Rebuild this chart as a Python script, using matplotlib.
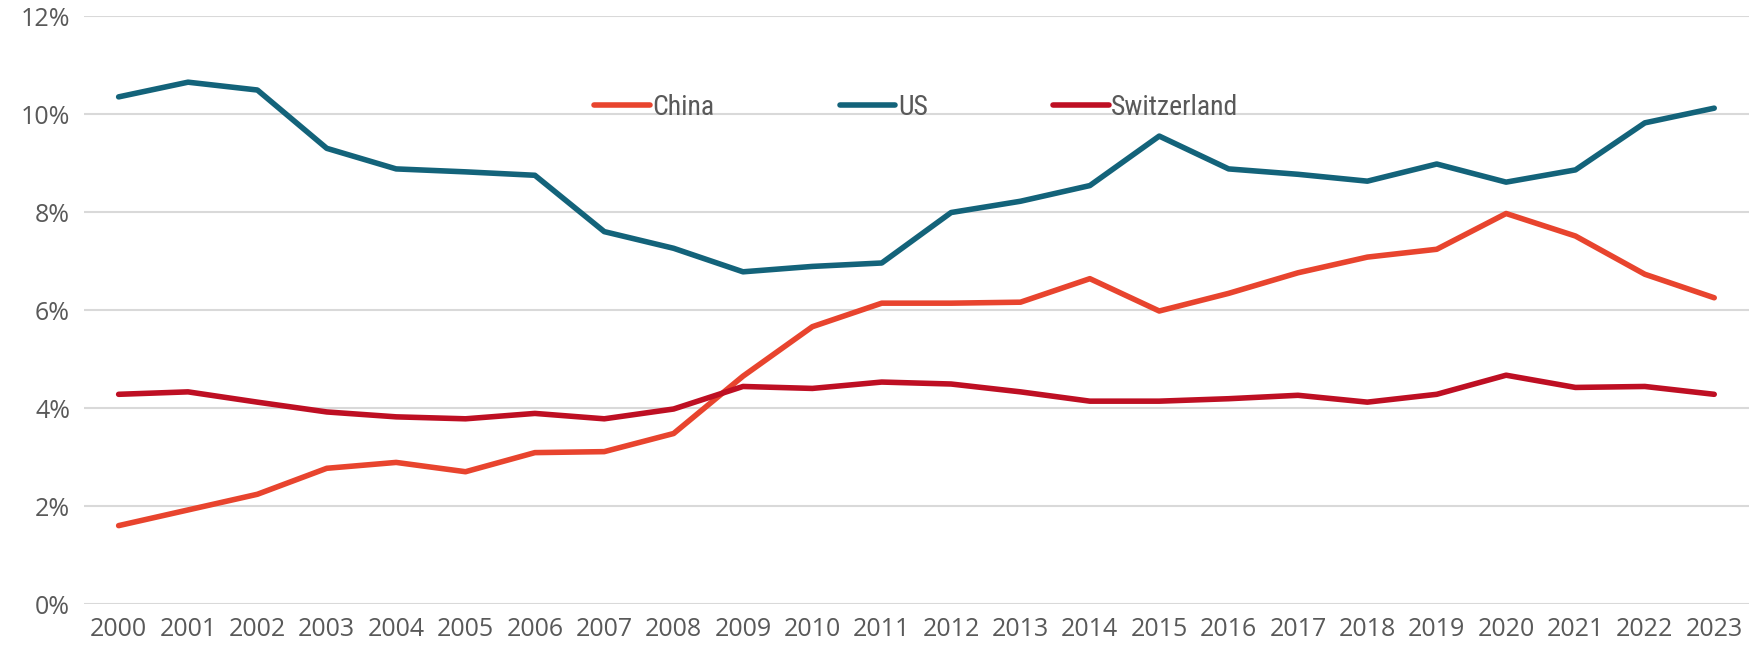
import numpy as np
import matplotlib.pyplot as plt
from matplotlib.ticker import FuncFormatter

# share of global total, percent
years = list(range(2000, 2024))
china = [1.60, 1.92, 2.24, 2.77, 2.89, 2.70, 3.09, 3.11, 3.48, 4.65, 5.66, 6.14,
         6.14, 6.16, 6.64, 5.98, 6.34, 6.76, 7.08, 7.24, 7.97, 7.51, 6.73, 6.25]
us = [10.35, 10.65, 10.49, 9.30, 8.88, 8.82, 8.75, 7.60, 7.26, 6.78, 6.89, 6.96,
      7.99, 8.22, 8.54, 9.55, 8.88, 8.77, 8.63, 8.98, 8.61, 8.86, 9.82, 10.12]
switzerland = [4.28, 4.33, 4.12, 3.92, 3.82, 3.78, 3.89, 3.78, 3.98, 4.44, 4.40, 4.53,
               4.49, 4.33, 4.14, 4.14, 4.19, 4.26, 4.12, 4.28, 4.67, 4.42, 4.44, 4.28]

series = [('China', china, '#E8442E'),
          ('US', us, '#13637A'),
          ('Switzerland', switzerland, '#BE0F23')]

plt.rcParams['font.family'] = ['Open Sans', 'DejaVu Sans']

fig = plt.figure(figsize=(17.6, 6.49), dpi=100)
ax = fig.add_axes([0.0477, 0.0693, 0.946, 0.906])

x = np.arange(len(years))
for name, vals, col in series:
    ax.plot(x, vals, color=col, lw=4.0, label=name, solid_capstyle='round')

ax.set_xlim(-0.5, len(years) - 0.5)
ax.set_ylim(0, 12)
ax.set_yticks(np.arange(0, 13, 2))
ax.yaxis.set_major_formatter(FuncFormatter(lambda v, p: '%d%%' % v))
ax.set_xticks(x)
ax.set_xticklabels([str(y) for y in years])

ax.grid(axis='y', color='#D9D9D9', lw=1.5)
ax.set_axisbelow(True)
for s in ax.spines.values():
    s.set_visible(False)
ax.tick_params(length=0, labelsize=18, labelcolor='#595959')
ax.tick_params(axis='x', pad=9)
ax.tick_params(axis='y', pad=10)

leg = ax.legend(loc='center', bbox_to_anchor=(0.5, 0.845), ncol=3, frameon=False,
                handlelength=2.0, handletextpad=0.1, columnspacing=4.5,
                prop={'family': ['Roboto Condensed', 'Liberation Sans Narrow', 'DejaVu Sans'],
                      'stretch': 'condensed', 'size': 20})
for t in leg.get_texts():
    t.set_color('#595959')

fig.savefig('out.png', dpi=100)
